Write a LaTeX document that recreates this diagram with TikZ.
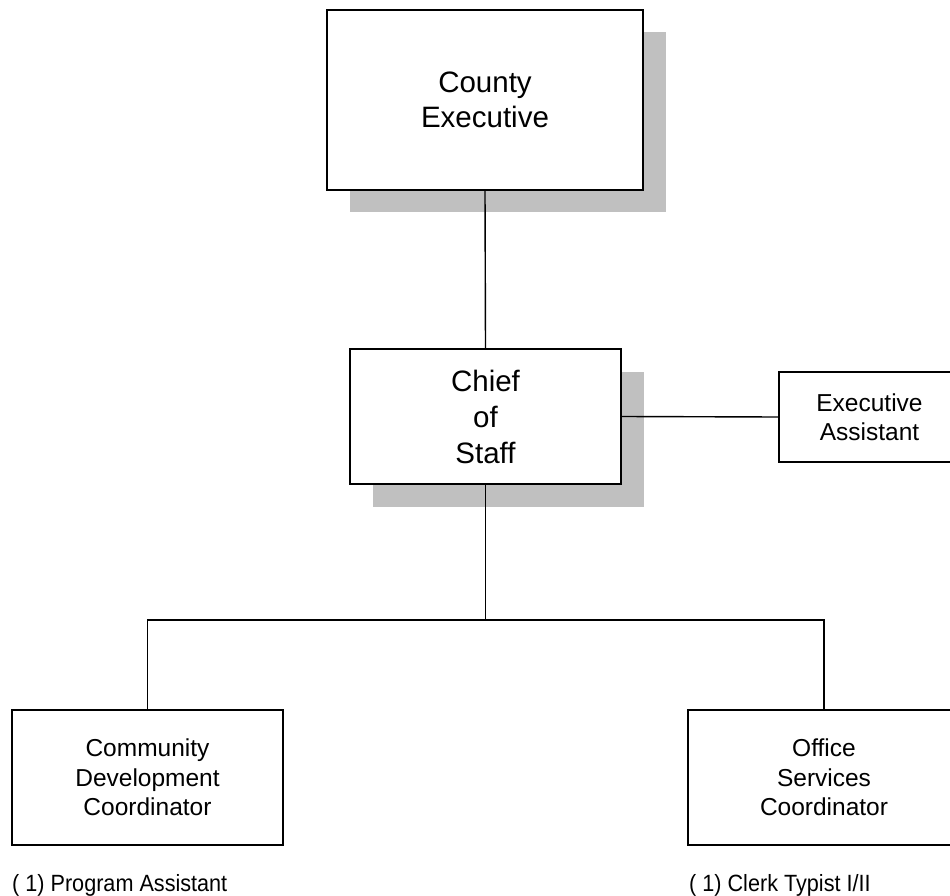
\documentclass[tikz,border=0pt]{standalone}
\usepackage{fontspec}
\setmainfont{Liberation Sans}
\newfontfamily\narrowlbl{Liberation Sans}[FakeStretch=0.92]
\usetikzlibrary{shadows}
\definecolor{shadowgray}{HTML}{C0C0C0}
\begin{document}
\begin{tikzpicture}[x=1pt,y=-1pt,
  box/.style={draw=black, line width=1.4pt, fill=white, inner sep=0pt, align=center},
  shadowed/.style={drop shadow={shadow xshift=22.5pt, shadow yshift=-22.5pt, fill=shadowgray, opacity=1}},
  bigfont/.style={font=\fontsize{29.5}{34.5}\selectfont},
  chieffont/.style={font=\fontsize{29.5}{36}\selectfont},
  midfont/.style={font=\fontsize{24.5}{29.5}\selectfont},
  lblfont/.style={font=\narrowlbl\fontsize{23.5}{26}\selectfont},
  conn/.style={draw=black, line width=1.4pt},
  lbl/.style={inner sep=0pt, anchor=base west}
]
\useasboundingbox (0,0) rectangle (950,896);

\node[box, shadowed, bigfont, minimum width=316pt, minimum height=180pt] (county) at (485,100) {County\\Executive};
\node[box, shadowed, chieffont, minimum width=271pt, minimum height=135pt] (chief) at (485.5,416.5) {Chief\\of\\Staff};
\node[box, midfont, minimum width=181pt, minimum height=90pt] (ea) at (869.5,417) {Executive\\Assistant};
\node[box, midfont, minimum width=271pt, minimum height=135pt] (comm) at (147.5,777.5) {Community\\Development\\Coordinator};
\node[box, midfont, minimum width=272pt, minimum height=135pt] (office) at (824,777.5) {Office\\Services\\Coordinator};

\coordinate (bus) at (485.5,620);

\draw[conn] (county.south) -- (chief.north);
\draw[conn] (chief.east) -- (ea.west);
\draw[conn] (chief.south) -- (bus);
\draw[conn] (comm.north) |- (bus) -| (office.north);

\node[lbl, lblfont] (pa) at (12,891) {( 1) Program Assistant};
\node[lbl, lblfont] (ct) at (689,891) {( 1) Clerk Typist I/II};
\end{tikzpicture}
\end{document}
